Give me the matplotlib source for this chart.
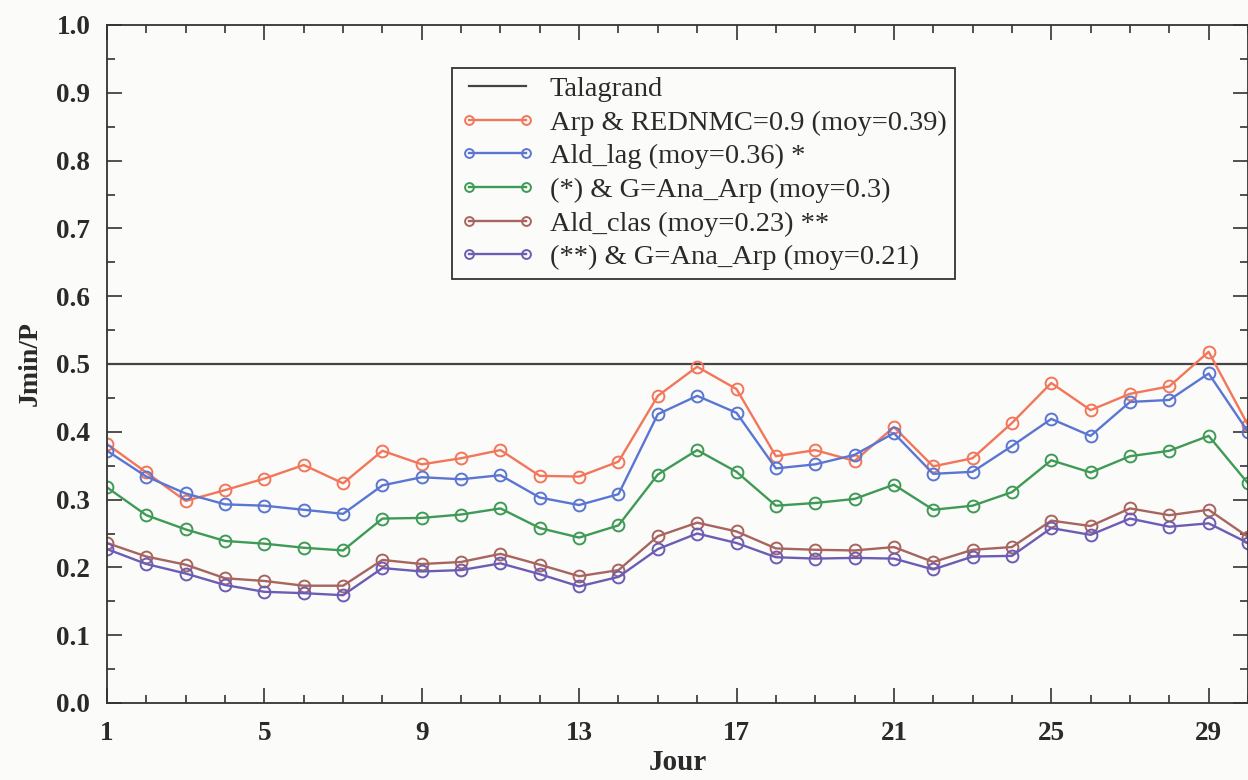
import matplotlib
matplotlib.use("Agg")
import matplotlib.pyplot as plt
from matplotlib.ticker import MultipleLocator, FixedLocator

plt.rcParams['font.family'] = ['Liberation Serif', 'DejaVu Serif']

days = list(range(1, 31))

talagrand = 0.5

arp_rednmc = [0.382, 0.340, 0.298, 0.314, 0.331, 0.351, 0.324, 0.372, 0.352, 0.361,
              0.373, 0.335, 0.334, 0.356, 0.453, 0.496, 0.463, 0.364, 0.373, 0.357,
              0.407, 0.349, 0.361, 0.413, 0.472, 0.432, 0.456, 0.467, 0.518, 0.410]
ald_lag = [0.372, 0.334, 0.309, 0.293, 0.291, 0.285, 0.279, 0.321, 0.333, 0.330,
           0.336, 0.303, 0.292, 0.308, 0.426, 0.453, 0.428, 0.346, 0.352, 0.366,
           0.398, 0.338, 0.341, 0.379, 0.419, 0.394, 0.444, 0.447, 0.486, 0.400]
lag_g = [0.318, 0.277, 0.256, 0.239, 0.235, 0.229, 0.225, 0.272, 0.273, 0.278,
         0.287, 0.258, 0.244, 0.262, 0.337, 0.373, 0.341, 0.291, 0.295, 0.301,
         0.322, 0.285, 0.291, 0.311, 0.358, 0.340, 0.364, 0.372, 0.394, 0.324]
ald_clas = [0.236, 0.216, 0.204, 0.184, 0.180, 0.173, 0.173, 0.211, 0.205, 0.208,
            0.220, 0.204, 0.187, 0.196, 0.246, 0.266, 0.253, 0.228, 0.226, 0.225,
            0.230, 0.208, 0.226, 0.230, 0.269, 0.261, 0.287, 0.277, 0.285, 0.245]
clas_g = [0.227, 0.205, 0.191, 0.174, 0.164, 0.162, 0.159, 0.199, 0.194, 0.196,
          0.206, 0.190, 0.172, 0.186, 0.227, 0.250, 0.236, 0.215, 0.213, 0.214,
          0.213, 0.197, 0.216, 0.217, 0.258, 0.248, 0.272, 0.260, 0.265, 0.236]

labels = ["Talagrand",
          "Arp & REDNMC=0.9 (moy=0.39)",
          "Ald_lag (moy=0.36) *",
          "(*) & G=Ana_Arp (moy=0.3)",
          "Ald_clas (moy=0.23) **",
          "(**) & G=Ana_Arp (moy=0.21)"]
colors = ["#f2765a", "#5a76d2", "#3f9a55", "#a8645e", "#6c5cb4"]
xtick_labels = [1, 5, 9, 13, 17, 21, 25, 29]

fig = plt.figure(figsize=(12.48, 7.8), dpi=100)
fig.patch.set_facecolor("#fbfbfa")
ax = fig.add_axes([107/1248, 1 - 703/780, 1141/1248, (703-25)/780])
ax.set_facecolor("#fbfbfa")

ax.plot(days, [talagrand]*len(days), color="#444444", lw=1.6, label=labels[0])
for series, c, lab in zip([arp_rednmc, ald_lag, lag_g, ald_clas, clas_g], colors, labels[1:]):
    ax.plot(days, series, color=c, lw=1.7, marker="o", markersize=8.5,
            markerfacecolor="none", markeredgecolor=c, markeredgewidth=1.4, label=lab)

ax.set_xlim(1, 30)
ax.set_ylim(0, 1.0)
ax.xaxis.set_major_locator(FixedLocator(xtick_labels))
ax.set_xticklabels([str(v) for v in xtick_labels])
ax.xaxis.set_minor_locator(MultipleLocator(1))
ax.yaxis.set_major_locator(MultipleLocator(0.1))
ax.yaxis.set_minor_locator(MultipleLocator(0.05))
ax.set_yticklabels([f"{v:.1f}" for v in ax.get_yticks()])
ax.tick_params(which="both", direction="in", top=True, right=True, width=1.2, colors="#333333",
               labelcolor="#2a2a2a")
ax.tick_params(which="major", length=11, labelsize=19.5)
ax.tick_params(axis="y", which="major", pad=12)
ax.tick_params(axis="x", which="major", pad=13)
ax.tick_params(which="minor", length=6)
for lbl in ax.get_xticklabels() + ax.get_yticklabels():
    lbl.set_fontweight("bold")
for s in ax.spines.values():
    s.set_color("#333333")
    s.set_linewidth(1.3)

ax.set_xlabel("Jour", fontsize=21, fontweight="bold", labelpad=2, color="#2a2a2a")
ax.set_ylabel("Jmin/P", fontsize=20, fontweight="bold", labelpad=10, color="#2a2a2a")

leg = ax.legend(loc="upper left", bbox_to_anchor=(0.302, 0.937), fontsize=20.5,
                numpoints=2, handlelength=2.6, handletextpad=0.55, labelspacing=0.27,
                borderpad=0.3, borderaxespad=0, fancybox=False, framealpha=1,
                edgecolor="#333333", facecolor="#fbfbfa", markerscale=0.75)
leg.get_frame().set_linewidth(1.3)
for t in leg.get_texts():
    t.set_color("#2a2a2a")

fig.savefig("out.png", dpi=100, facecolor=fig.get_facecolor())
